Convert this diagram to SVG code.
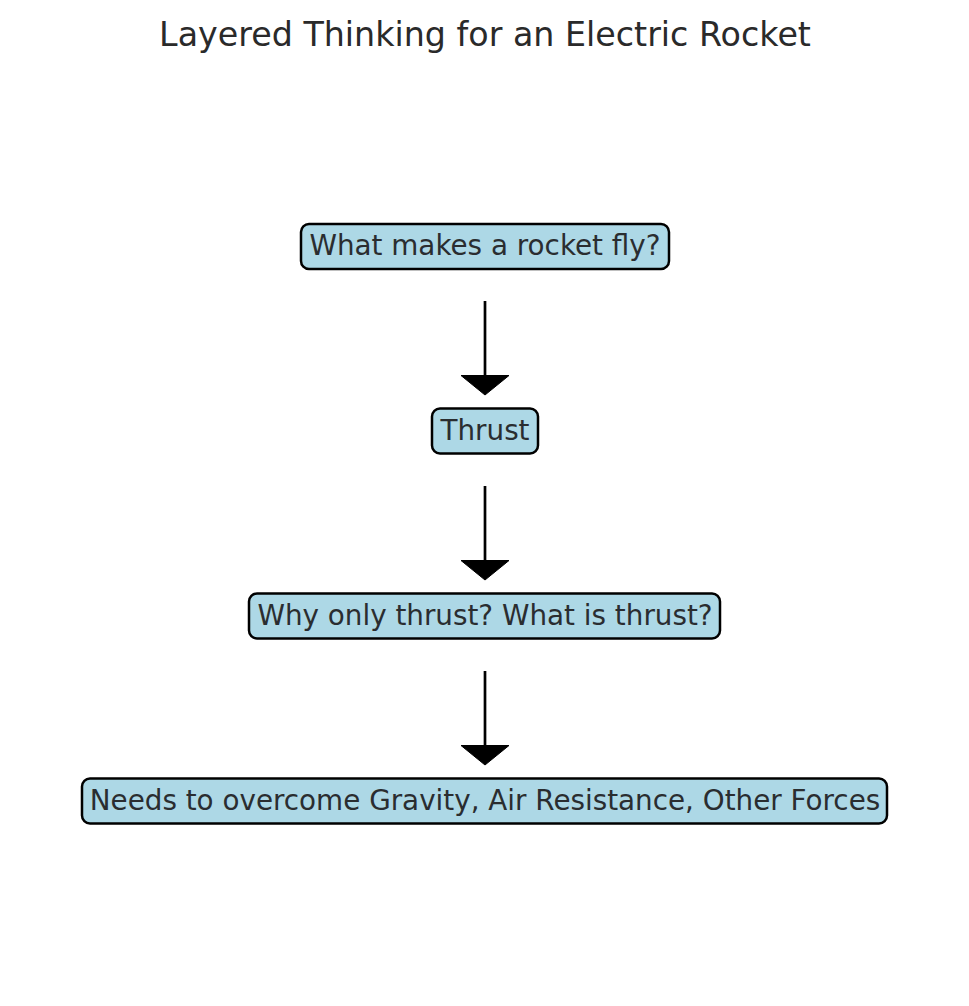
<svg xmlns="http://www.w3.org/2000/svg" width="969" height="1006" viewBox="0 0 969 1006">
<style>
.bg{fill:#ffffff}
.box{fill:#ADD8E6;stroke:#000000;stroke-width:2.5}
.lbl{font-family:"DejaVu Sans",sans-serif;font-size:27.8px;fill:#2a2d30;text-anchor:middle}
.title{font-family:"DejaVu Sans",sans-serif;font-size:33.3px;fill:#2a2a2a;text-anchor:middle}
.shaft{stroke:#000000;stroke-width:2.7;fill:none}
.head{fill:#000000;stroke:#000000;stroke-width:1;stroke-linejoin:miter}
</style>
<rect class="bg" x="0" y="0" width="969" height="1006"/>
<text class="title" x="485" y="46">Layered Thinking for an Electric Rocket</text>
<g id="connectors">
<line class="shaft" x1="485" y1="301" x2="485" y2="377"/>
<polygon class="head" points="461,375.5 509,375.5 485,395"/>
<line class="shaft" x1="485" y1="486" x2="485" y2="562"/>
<polygon class="head" points="461,560.5 509,560.5 485,580"/>
<line class="shaft" x1="485" y1="671" x2="485" y2="747"/>
<polygon class="head" points="461,745.5 509,745.5 485,765"/>
</g>
<g id="node1">
<rect class="box" x="301" y="224" width="368" height="45" rx="8" ry="8"/>
<text class="lbl" x="485" y="255">What makes a rocket fly?</text>
</g>
<g id="node2">
<rect class="box" x="432" y="408.5" width="106" height="45" rx="8" ry="8"/>
<text class="lbl" x="485" y="440">Thrust</text>
</g>
<g id="node3">
<rect class="box" x="249" y="593.5" width="471" height="45" rx="8" ry="8"/>
<text class="lbl" x="485" y="625">Why only thrust? What is thrust?</text>
</g>
<g id="node4">
<rect class="box" x="82" y="778.5" width="805" height="45" rx="8" ry="8"/>
<text class="lbl" x="485" y="810">Needs to overcome Gravity, Air Resistance, Other Forces</text>
</g>
</svg>
